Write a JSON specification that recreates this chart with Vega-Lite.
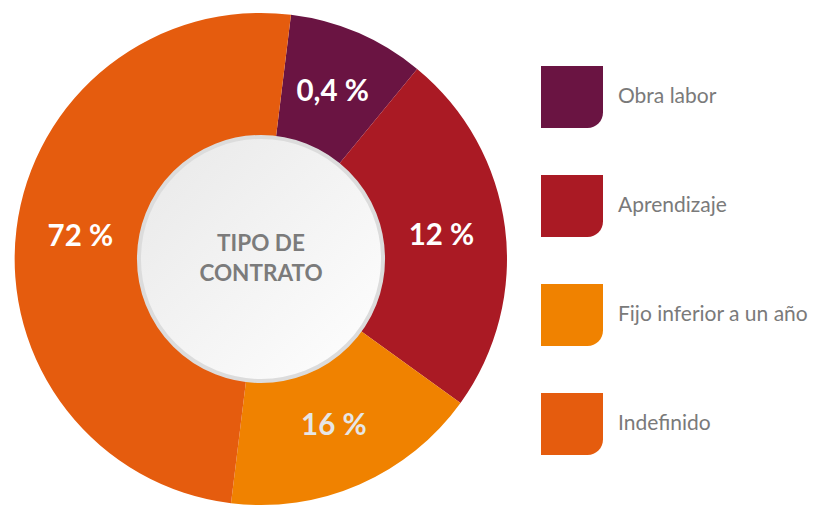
{
  "$schema": "https://vega.github.io/schema/vega-lite/v6.json",
  "width": 512,
  "height": 508,
  "padding": {"left": 5, "top": 5, "right": 5, "bottom": 0},
  "background": "#ffffff",
  "config": {"view": {"stroke": null}},
  "datasets": {
    "contratos": [
      {"category": "Obra labor", "share": 9, "label": "0,4 %", "order": 1},
      {"category": "Aprendizaje", "share": 24, "label": "12 %", "order": 2},
      {"category": "Fijo inferior a un año", "share": 17, "label": "16 %", "order": 3},
      {"category": "Indefinido", "share": 50, "label": "72 %", "order": 4}
    ],
    "centro": [{"title": "TIPO DE\nCONTRATO"}]
  },
  "layer": [
    {
      "data": {"name": "contratos"},
      "mark": {"type": "arc", "outerRadius": 246, "innerRadius": 100, "strokeWidth": 0},
      "encoding": {
        "theta": {"field": "share", "type": "quantitative", "stack": true, "scale": {"range": [0.1222, 6.4054]}},
        "order": {"field": "order", "type": "quantitative"},
        "color": {
          "field": "category",
          "type": "nominal",
          "scale": {
            "domain": ["Obra labor", "Aprendizaje", "Fijo inferior a un año", "Indefinido"],
            "range": ["#6a1442", "#aa1a24", "#f08200", "#e55c0e"]
          },
          "legend": {
            "title": null,
            "orient": "none",
            "legendX": 536,
            "legendY": 61,
            "padding": 0,
            "symbolType": "M-1,-1H1V0.5A0.5,0.5 0 0 1 0.5,1H-1Z",
            "symbolSize": 3844,
            "symbolStrokeWidth": 0,
            "symbolOpacity": 1,
            "rowPadding": 47,
            "labelOffset": 15,
            "labelFont": "Lato",
            "labelFontSize": 21,
            "labelColor": "#7a7a7a",
            "labelLimit": 300
          }
        }
      }
    },
    {
      "data": {"name": "contratos"},
      "mark": {"type": "text", "radius": 182, "font": "Lato", "fontWeight": "bold", "fontSize": 29.5, "align": "center", "baseline": "middle"},
      "encoding": {
        "theta": {"field": "share", "type": "quantitative", "stack": true},
        "order": {"field": "order", "type": "quantitative"},
        "text": {"field": "label", "type": "nominal"},
        "color": {
          "condition": {"test": "datum.category === 'Fijo inferior a un año'", "value": "#e6e6e6"},
          "value": "#ffffff"
        }
      }
    },
    {
      "data": {"name": "centro"},
      "mark": {
        "type": "arc",
        "outerRadius": 122,
        "innerRadius": 0,
        "stroke": "#dcdcdc",
        "strokeWidth": 4,
        "color": {
          "gradient": "linear",
          "x1": 0, "y1": 0, "x2": 1, "y2": 1,
          "stops": [{"offset": 0, "color": "#e8e8e8"}, {"offset": 1, "color": "#ffffff"}]
        }
      },
      "encoding": {}
    },
    {
      "data": {"name": "centro"},
      "mark": {"type": "text", "font": "Lato", "fontWeight": "bold", "fontSize": 22.5, "lineHeight": 30, "lineBreak": "\n", "dy": -15, "color": "#7b7b7b", "align": "center", "baseline": "middle"},
      "encoding": {"text": {"field": "title", "type": "nominal"}}
    }
  ]
}
